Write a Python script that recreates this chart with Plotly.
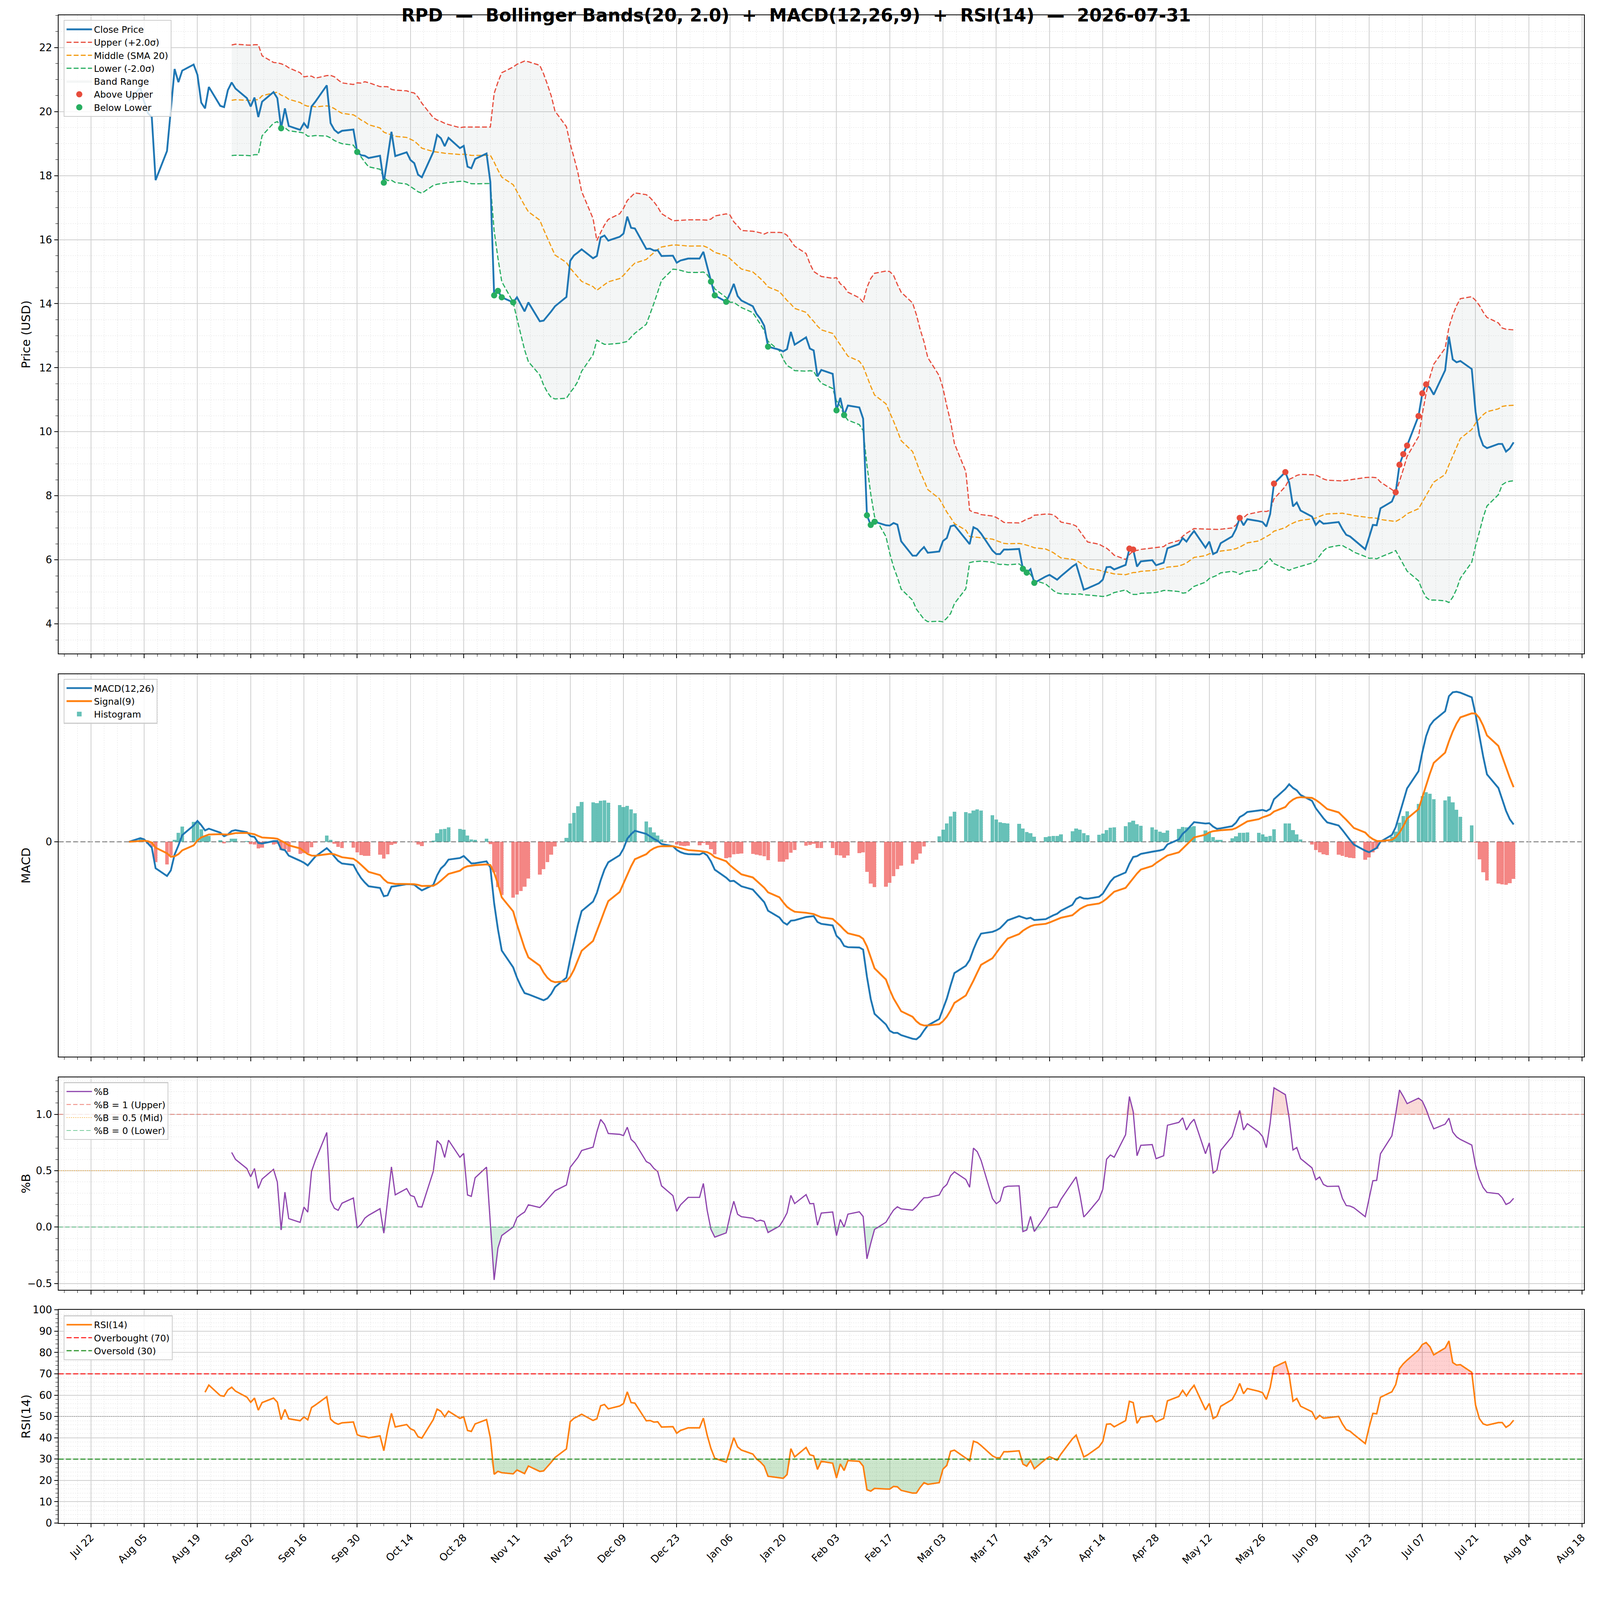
import numpy as np
import pandas as pd
import plotly.graph_objects as go
from plotly.subplots import make_subplots

TICKER = "RPD"
AS_OF = "2026-07-31"

# daily closes, one list per month (business days)
close_2025_08 = [20.34, 20.75, 20.30, 19.95, 19.83, 17.86, 18.77, 20.05, 21.33, 20.92, 21.28,
                 21.47, 21.15, 20.28, 20.10, 20.77, 20.18, 20.14, 20.67, 20.91, 20.72]
close_2025_09 = [20.42, 20.16, 20.44, 19.83, 20.31, 20.61, 20.42, 19.48, 20.10, 19.55, 19.43,
                 19.64, 19.48, 20.16, 20.31, 20.82, 19.64, 19.43, 19.33, 19.40, 19.44, 18.74]
close_2025_10 = [18.64, 18.62, 18.55, 18.62, 17.78, 18.55, 19.37, 18.61, 18.73, 18.49, 18.39,
                 18.03, 17.95, 18.74, 19.27, 19.17, 18.92, 19.18, 18.86, 18.93, 18.28, 18.23, 18.52]
close_2025_11 = [18.69, 17.80, 14.26, 14.40, 14.20, 14.04, 14.20, 13.98, 13.76, 14.04,
                 13.45, 13.47, 13.61, 13.76, 13.92, 14.21, 15.34, 15.51, 15.60, 15.70]
close_2025_12 = [15.42, 15.49, 16.07, 16.13, 15.97, 16.09, 16.19, 16.72, 16.37, 16.35, 15.71,
                 15.72, 15.66, 15.67, 15.49, 15.50, 15.28, 15.35, 15.38, 15.41, 15.41, 15.62, 15.16]
close_2026_01 = [14.69, 14.26, 14.06, 14.32, 14.62, 14.24, 14.10, 13.92, 13.68, 13.53, 13.31,
                 12.66, 12.56, 12.51, 12.58, 13.12, 12.72, 12.95, 12.60, 12.54, 11.73, 11.93]
close_2026_02 = [11.81, 10.67, 11.06, 10.52, 10.82, 10.76, 10.41, 7.39, 7.09, 7.19,
                 7.08, 7.07, 7.15, 7.10, 6.58, 6.13, 6.13, 6.28, 6.40, 6.22]
close_2026_03 = [6.26, 6.59, 6.68, 7.05, 7.08, 6.64, 6.49, 7.02, 6.96, 6.82, 6.29,
                 6.18, 6.18, 6.32, 6.32, 6.34, 5.72, 5.60, 5.71, 5.28, 5.48, 5.53]
close_2026_04 = [5.46, 5.38, 5.49, 5.79, 5.87, 5.49, 5.07, 5.11, 5.27, 5.38, 5.77,
                 5.78, 5.70, 5.84, 6.35, 6.32, 5.79, 5.95, 5.99, 5.83, 5.87, 5.91]
close_2026_05 = [6.36, 6.49, 6.68, 6.57, 6.75, 6.90, 6.38, 6.57, 6.18, 6.24, 6.52,
                 6.73, 6.96, 7.31, 7.08, 7.27, 7.21, 7.18, 7.04, 7.43, 8.38]
close_2026_06 = [8.74, 8.42, 7.67, 7.79, 7.54, 7.35, 7.09, 7.22, 7.13, 7.14, 7.18,
                 6.96, 6.78, 6.73, 6.63, 6.33, 6.70, 7.09, 7.08, 7.61, 7.82, 8.11]
close_2026_07 = [8.97, 9.30, 9.57, 10.49, 11.20, 11.48, 11.37, 11.16, 11.92, 12.97, 12.26,
                 12.17, 12.21, 11.96, 10.62, 9.89, 9.57, 9.49, 9.62, 9.62, 9.38, 9.48, 9.67]

BB_WINDOW, BB_K = 20, 2.0
MACD_FAST, MACD_SLOW, MACD_SIG = 12, 26, 9
RSI_WINDOW = 14
RSI_OB, RSI_OS, RSI_MID = 70, 30, 50
PB_UP, PB_MID, PB_LOW = 1.0, 0.5, 0.0

dates = pd.bdate_range("2025-08-01", AS_OF)
close = pd.Series(close_2025_08 + close_2025_09 + close_2025_10 + close_2025_11 + close_2025_12
                  + close_2026_01 + close_2026_02 + close_2026_03 + close_2026_04 + close_2026_05
                  + close_2026_06 + close_2026_07, index=dates)

# indicators
middle = close.rolling(BB_WINDOW).mean()
sd = close.rolling(BB_WINDOW).std()
upper = middle + BB_K * sd
lower = middle - BB_K * sd
pct_b = (close - lower) / (upper - lower)

macd = close.ewm(span=MACD_FAST, adjust=False).mean() - close.ewm(span=MACD_SLOW, adjust=False).mean()
signal = macd.ewm(span=MACD_SIG, adjust=False).mean()
hist = macd - signal

delta = close.diff()
gain = delta.clip(lower=0).ewm(alpha=1 / RSI_WINDOW, adjust=False, min_periods=RSI_WINDOW).mean()
loss = (-delta.clip(upper=0)).ewm(alpha=1 / RSI_WINDOW, adjust=False, min_periods=RSI_WINDOW).mean()
rsi = 100 - 100 / (1 + gain / loss)

above = close[close > upper]
below = close[close < lower]

# the page gets photographed a bit magnified, so sizes are given in target px / S
S = 1.074
BODY = 8


def s(v):
    return v / S


def css(p):
    return p / S - BODY


DAY = 86400000
FONT = "DejaVu Sans"
GRID = "#cfcfcf"
MINOR_GRID = "#e2e2e2"
X_RANGE = ["2025-07-13 12:00", "2026-08-18 12:00"]
W, H = round(css(4378)), round(css(4322))
ML = css(161)
MT = css(42)
MR = W - css(4355)
MB = H - css(4187)


def ypaper(p):
    return (4187 - p) / (4187 - 42)


def dash(a, b):
    return f"{s(a):.1f}px,{s(b):.1f}px"


BAND_DASH = dash(13.5, 6)

fig = make_subplots(rows=4, cols=1)

# ---- price + bollinger
bb = upper.notna()
fig.add_trace(go.Scatter(x=dates[bb], y=upper[bb], mode="lines", line=dict(width=0),
                         showlegend=False, hoverinfo="skip"), row=1, col=1)
fig.add_trace(go.Scatter(x=dates[bb], y=lower[bb], mode="lines", line=dict(width=0),
                         fill="tonexty", fillcolor="rgba(149,165,166,0.1)",
                         name="Band Range", legendrank=5), row=1, col=1)
fig.add_trace(go.Scatter(x=dates, y=upper, mode="lines", name="Upper (+2.0σ)", legendrank=2,
                         line=dict(color="#e74c3c", width=s(3.2), dash=BAND_DASH)), row=1, col=1)
fig.add_trace(go.Scatter(x=dates, y=middle, mode="lines", name="Middle (SMA 20)", legendrank=3,
                         line=dict(color="#f39c12", width=s(3.2), dash=BAND_DASH)), row=1, col=1)
fig.add_trace(go.Scatter(x=dates, y=lower, mode="lines", name="Lower (-2.0σ)", legendrank=4,
                         line=dict(color="#27ae60", width=s(3.2), dash=BAND_DASH)), row=1, col=1)
fig.add_trace(go.Scatter(x=dates, y=close, mode="lines", name="Close Price", legendrank=1,
                         line=dict(color="#1f77b4", width=s(5))), row=1, col=1)
fig.add_trace(go.Scatter(x=above.index, y=above, mode="markers", name="Above Upper", legendrank=6,
                         marker=dict(color="#e74c3c", size=s(17))), row=1, col=1)
fig.add_trace(go.Scatter(x=below.index, y=below, mode="markers", name="Below Lower", legendrank=7,
                         marker=dict(color="#27ae60", size=s(17))), row=1, col=1)

# ---- macd
fig.add_trace(go.Bar(x=dates, y=hist.where(hist >= 0), width=0.95 * DAY, name="Histogram",
                     marker=dict(color="rgba(38,166,154,0.7)", line=dict(width=0)),
                     legend="legend2", legendrank=3), row=2, col=1)
fig.add_trace(go.Bar(x=dates, y=hist.where(hist < 0), width=0.95 * DAY, showlegend=False,
                     marker=dict(color="rgba(239,83,80,0.7)", line=dict(width=0)),
                     legend="legend2"), row=2, col=1)
fig.add_trace(go.Scatter(x=dates, y=macd, mode="lines", name="MACD(12,26)", legend="legend2",
                         legendrank=1, line=dict(color="#1f77b4", width=s(5))), row=2, col=1)
fig.add_trace(go.Scatter(x=dates, y=signal, mode="lines", name="Signal(9)", legend="legend2",
                         legendrank=2, line=dict(color="#ff7f0e", width=s(5))), row=2, col=1)
fig.add_hline(y=0, line=dict(color="#808080", width=s(2.5), dash=dash(14, 6)), layer="below",
              row=2, col=1)

mvals = pd.concat([macd, signal, hist])
mlo, mhi = mvals.min(), mvals.max()
mpad = 0.05 * (mhi - mlo)

# ---- %B
pv = pct_b.notna()
fig.add_trace(go.Scatter(x=dates[pv], y=np.full(pv.sum(), PB_UP), mode="lines", line=dict(width=0),
                         showlegend=False, hoverinfo="skip", legend="legend3"), row=3, col=1)
fig.add_trace(go.Scatter(x=dates[pv], y=np.maximum(pct_b[pv], PB_UP), mode="lines", line=dict(width=0),
                         fill="tonexty", fillcolor="rgba(231,76,60,0.2)", showlegend=False,
                         hoverinfo="skip", legend="legend3"), row=3, col=1)
fig.add_trace(go.Scatter(x=dates[pv], y=np.full(pv.sum(), PB_LOW), mode="lines", line=dict(width=0),
                         showlegend=False, hoverinfo="skip", legend="legend3"), row=3, col=1)
fig.add_trace(go.Scatter(x=dates[pv], y=np.minimum(pct_b[pv], PB_LOW), mode="lines", line=dict(width=0),
                         fill="tonexty", fillcolor="rgba(39,174,96,0.2)", showlegend=False,
                         hoverinfo="skip", legend="legend3"), row=3, col=1)
fig.add_trace(go.Scatter(x=dates, y=pct_b, mode="lines", name="%B", legend="legend3", legendrank=1,
                         line=dict(color="#8e44ad", width=s(3.3))), row=3, col=1)
fig.add_hline(y=PB_UP, line=dict(color="#e74c3c", width=s(2), dash=dash(12, 6)), opacity=0.7,
              showlegend=True, name="%B = 1 (Upper)", legend="legend3", legendrank=2, row=3, col=1)
fig.add_hline(y=PB_MID, line=dict(color="#f39c12", width=s(2), dash=dash(3, 3)), opacity=0.7,
              showlegend=True, name="%B = 0.5 (Mid)", legend="legend3", legendrank=3, row=3, col=1)
fig.add_hline(y=PB_LOW, line=dict(color="#27ae60", width=s(2), dash=dash(12, 6)), opacity=0.7,
              showlegend=True, name="%B = 0 (Lower)", legend="legend3", legendrank=4, row=3, col=1)

# ---- RSI
rv = rsi.notna()
fig.add_trace(go.Scatter(x=dates[rv], y=np.full(rv.sum(), RSI_OB), mode="lines", line=dict(width=0),
                         showlegend=False, hoverinfo="skip", legend="legend4"), row=4, col=1)
fig.add_trace(go.Scatter(x=dates[rv], y=np.maximum(rsi[rv], RSI_OB), mode="lines", line=dict(width=0),
                         fill="tonexty", fillcolor="rgba(255,0,0,0.18)", showlegend=False,
                         hoverinfo="skip", legend="legend4"), row=4, col=1)
fig.add_trace(go.Scatter(x=dates[rv], y=np.full(rv.sum(), RSI_OS), mode="lines", line=dict(width=0),
                         showlegend=False, hoverinfo="skip", legend="legend4"), row=4, col=1)
fig.add_trace(go.Scatter(x=dates[rv], y=np.minimum(rsi[rv], RSI_OS), mode="lines", line=dict(width=0),
                         fill="tonexty", fillcolor="rgba(0,128,0,0.2)", showlegend=False,
                         hoverinfo="skip", legend="legend4"), row=4, col=1)
fig.add_trace(go.Scatter(x=dates, y=rsi, mode="lines", name="RSI(14)", legend="legend4", legendrank=1,
                         line=dict(color="#ff7f0e", width=s(4.2))), row=4, col=1)
fig.add_hline(y=RSI_OB, line=dict(color="red", width=s(3), dash=dash(14, 6)), opacity=0.8,
              showlegend=True, name="Overbought (70)", legend="legend4", legendrank=2, row=4, col=1)
fig.add_hline(y=RSI_OS, line=dict(color="green", width=s(3), dash=dash(14, 6)), opacity=0.8,
              showlegend=True, name="Oversold (30)", legend="legend4", legendrank=3, row=4, col=1)
fig.add_hline(y=RSI_MID, line=dict(color="gray", width=s(2), dash=dash(3, 3)), opacity=0.7,
              row=4, col=1)

# ---- axes
domains = [(ypaper(1797), 1.0), (ypaper(2905), ypaper(1854)),
           (ypaper(3546), ypaper(2962)), (0.0, ypaper(3601))]
tickfont = dict(family=FONT, size=s(28), color="black")
minor_tick = dict(ticks="outside", ticklen=s(6), tickwidth=s(1.5), tickcolor="black",
                  showgrid=True, gridcolor=MINOR_GRID, gridwidth=s(1.5), griddash="dot")
for i in range(1, 5):
    fig.update_xaxes(
        type="date", range=X_RANGE, tick0="2025-07-22", dtick=14 * DAY, tickformat="%b %d",
        tickangle=-45, tickfont=tickfont, showticklabels=(i == 4),
        ticks="outside", ticklen=s(10), tickwidth=s(2), tickcolor="black",
        showgrid=True, gridcolor=GRID, gridwidth=s(2), zeroline=False,
        showline=True, linecolor="black", linewidth=s(2.5), mirror=True,
        minor=dict(minor_tick, tick0="2025-07-22", dtick=3.5 * DAY),
        row=i, col=1)

yc = dict(tickfont=tickfont, ticks="outside", ticklen=s(10), tickwidth=s(2), tickcolor="black",
          showline=True, linecolor="black", linewidth=s(2.5), mirror=True, zeroline=False,
          gridcolor=GRID, gridwidth=s(2))
ytitle = dict(family=FONT, size=s(33), color="black")
fig.update_yaxes(**yc, domain=domains[0], range=[3.07, 23.01], tick0=0, dtick=2,
                 title=dict(text="Price (USD)", font=ytitle),
                 minor=dict(minor_tick, dtick=0.5), row=1, col=1)
fig.update_yaxes(**yc, domain=domains[1], range=[mlo - mpad, mhi + mpad], tickvals=[0],
                 ticktext=["0"], showgrid=False,
                 title=dict(text="MACD", font=ytitle), row=2, col=1)
fig.update_yaxes(**yc, domain=domains[2], range=[-0.557, 1.327], tickvals=[-0.5, 0, 0.5, 1.0],
                 tickformat=".1f", title=dict(text="%B", font=ytitle),
                 minor=dict(minor_tick, tick0=0, dtick=0.1), row=3, col=1)
fig.update_yaxes(**yc, domain=domains[3], range=[0, 100], tick0=0, dtick=10,
                 title=dict(text="RSI(14)", font=ytitle),
                 minor=dict(minor_tick, dtick=2), row=4, col=1)

leg = dict(x=(175 - 161) / (4355 - 161), xanchor="left", yanchor="top", traceorder="normal",
           bgcolor="rgba(255,255,255,0.8)", bordercolor="#cccccc", borderwidth=s(2.5),
           font=dict(family=FONT, size=s(25), color="black"), itemwidth=s(70), tracegroupgap=0)

nb = "\u00a0\u00a0"
title = (f"<b>{TICKER}{nb}—{nb}Bollinger Bands({BB_WINDOW}, {BB_K}){nb}+{nb}"
         f"MACD({MACD_FAST},{MACD_SLOW},{MACD_SIG}){nb}+{nb}RSI({RSI_WINDOW}){nb}—{nb}{AS_OF}</b>")

fig.update_layout(
    width=W, height=H,
    margin=dict(l=ML, r=MR, t=MT, b=MB, pad=0),
    template="none",
    paper_bgcolor="white", plot_bgcolor="white",
    font=dict(family=FONT, color="black"),
    barmode="overlay", bargap=0,
    title=dict(text=title, x=css(2189) / W, xref="container", xanchor="center",
               y=1 - css(41.5) / H, yref="container", yanchor="middle",
               font=dict(family=FONT, size=s(49), color="black")),
    legend=dict(leg, y=ypaper(55)),
    legend2=dict(leg, y=ypaper(1866)),
    legend3=dict(leg, y=ypaper(2975)),
    legend4=dict(leg, y=ypaper(3616)),
)

fig.write_html("out.html")
